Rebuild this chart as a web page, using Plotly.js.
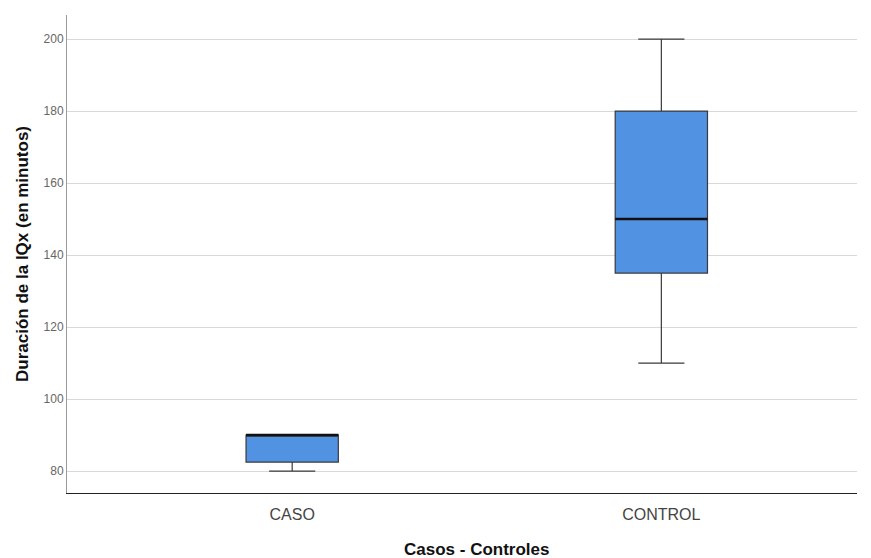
<!DOCTYPE html>
<html><head><meta charset="utf-8">
<script src="https://cdn.plot.ly/plotly-3.0.1.min.js"></script>
<style>html,body{margin:0;padding:0;background:#fff}#chart{width:871px;height:558px}</style>
</head><body><div id="chart"></div>
<script>
const categories = ["CASO", "CONTROL"];
const lowerWhisker = [80, 110];
const q1 = [82.5, 135];
const median = [90, 150];
const q3 = [90, 180];
const upperWhisker = [90, 200];
const yTicks = [80, 100, 120, 140, 160, 180, 200];
const xTitle = "Casos - Controles";
const yTitle = "Duración de la IQx (en minutos)";

const pos = categories.map((c, i) => i);
const boxW = 0.25;

const traces = [{
  type: 'box',
  x: pos,
  q1: q1, median: median, q3: q3,
  lowerfence: lowerWhisker, upperfence: upperWhisker,
  width: boxW,
  whiskerwidth: 0.5,
  fillcolor: '#5192e2',
  line: {color: '#3a3a3a', width: 1.2},
  hoverinfo: 'skip',
  showlegend: false
}];
// thicker median lines
pos.forEach((p, i) => {
  traces.push({
    type: 'scatter', mode: 'lines',
    x: [p - boxW / 2, p + boxW / 2], y: [median[i], median[i]],
    line: {color: '#111', width: 2.5},
    hoverinfo: 'skip', showlegend: false
  });
});

const layout = {
  width: 871, height: 558,
  margin: {l: 67, r: 14, t: 15, b: 65},
  paper_bgcolor: '#fff', plot_bgcolor: '#fff',
  font: {family: 'Liberation Sans, Arial, sans-serif', color: '#333'},
  xaxis: {
    type: 'linear',
    range: [-0.61, 1.53],
    tickvals: pos, ticktext: categories,
    showgrid: false, zeroline: false,
    showline: true, linecolor: '#222', linewidth: 1.3,
    ticks: '', tickfont: {size: 16, color: '#444'},
    ticklabelstandoff: 6
  },
  yaxis: {
    range: [73.9, 206.7],
    tickvals: yTicks,
    showgrid: true, gridcolor: '#d9d9d9', gridwidth: 1,
    zeroline: false,
    showline: true, linecolor: '#999', linewidth: 1,
    ticks: '', tickfont: {size: 12, color: '#666'},
    title: {text: '<b>' + yTitle + '</b>', font: {size: 17, color: '#111'}, standoff: 10}
  },
  annotations: [{
    text: '<b>' + xTitle + '</b>', showarrow: false,
    xref: 'paper', yref: 'paper', x: 0.518, y: 0,
    xanchor: 'center', yanchor: 'middle', yshift: -56,
    font: {size: 17, color: '#111'}
  }]
};
Plotly.newPlot('chart', traces, layout, {displayModeBar: false, staticPlot: true});
</script></body></html>
